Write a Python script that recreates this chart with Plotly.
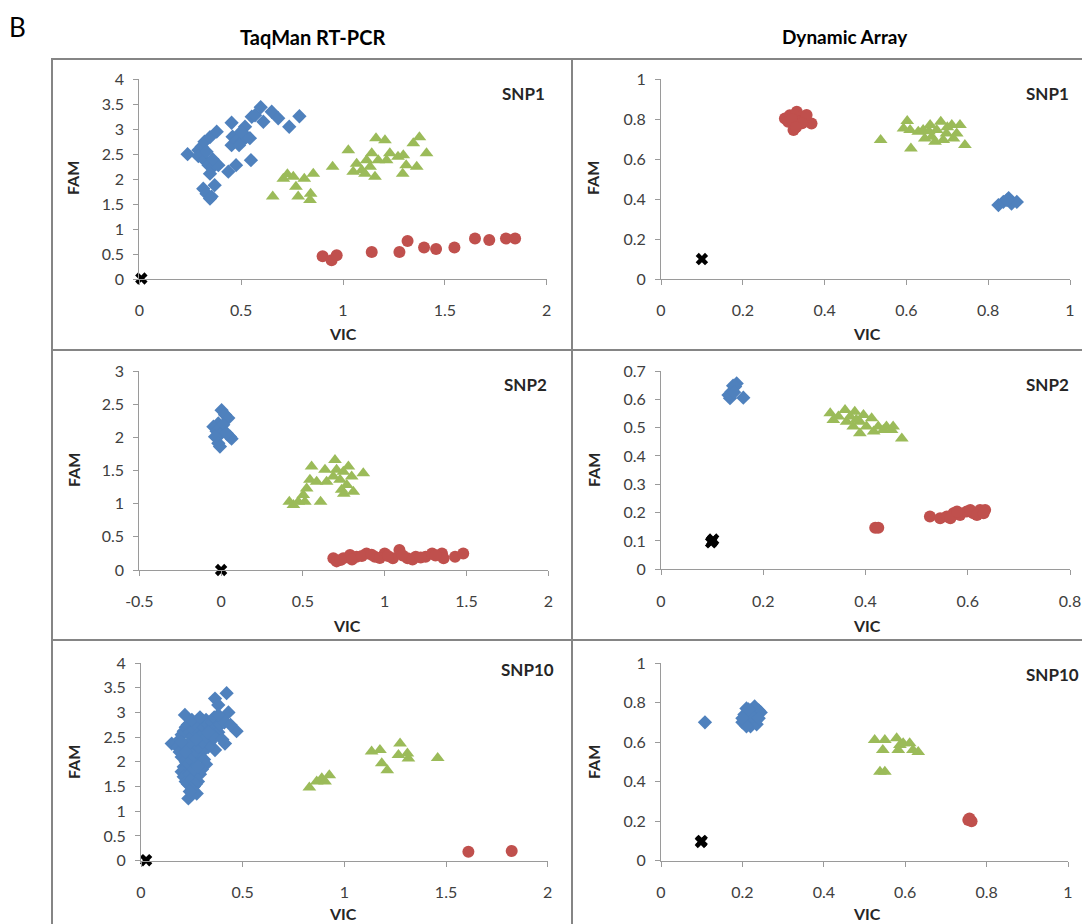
import plotly.graph_objects as go

# ---------------- DATA ----------------
# TaqMan RT-PCR, SNP1  (VIC, FAM)
TAQ1_BLUE = [(0.237,2.50),(0.29,2.58),(0.306,2.65),(0.32,2.75),(0.347,2.84),(0.38,2.95),(0.29,2.46),
             (0.32,2.38),(0.34,2.28),(0.363,2.25),(0.388,2.28),(0.347,2.11),(0.314,1.81),(0.33,1.71),
             (0.355,1.65),(0.37,1.88),(0.347,1.61),(0.437,2.15),(0.475,2.28),(0.453,2.68),(0.458,2.85),
             (0.453,3.13),(0.478,2.78),(0.502,2.75),(0.519,3.05),(0.527,2.85),(0.543,2.82),(0.548,2.38),
             (0.552,3.25),(0.568,3.28),(0.596,3.44),(0.609,3.15),(0.65,3.35),(0.682,3.22),(0.736,3.05),
             (0.786,3.26),(0.49,2.68),(0.36,2.40),(0.33,2.55),(0.50,2.95)]
TAQ1_GREEN = [(0.655,1.65),(0.707,2.01),(0.727,2.10),(0.756,2.05),(0.769,1.85),(0.78,1.65),(0.81,2.01),
              (0.841,1.71),(0.838,1.58),(0.854,2.11),(0.949,2.25),(1.026,2.58),(1.05,2.15),(1.067,2.31),
              (1.092,2.18),(1.108,2.11),(1.133,2.25),(1.141,2.52),(1.157,2.05),(1.162,2.82),(1.206,2.78),
              (1.214,2.38),(1.23,2.52),(1.27,2.45),(1.293,2.11),(1.296,2.48),(1.31,2.28),(1.345,2.72),
              (1.362,2.25),(1.375,2.84),(1.41,2.52),(1.173,2.38),(1.116,2.38)]
TAQ1_RED = [(0.90,0.455),(0.944,0.375),(0.969,0.475),(1.141,0.54),(1.277,0.54),(1.317,0.76),(1.398,0.63),
            (1.457,0.60),(1.547,0.63),(1.648,0.81),(1.718,0.78),(1.80,0.81),(1.845,0.81)]
TAQ1_NTC = [(0.01,0.01)]

# Dynamic Array, SNP1
DYN1_RED = [(0.303,0.804),(0.315,0.82),(0.332,0.838),(0.34,0.813),(0.324,0.746),(0.348,0.796),
            (0.368,0.779),(0.311,0.788),(0.328,0.771),(0.336,0.788),(0.356,0.821),(0.32,0.80),
            (0.345,0.78),(0.33,0.76)]
DYN1_GREEN = [(0.537,0.696),(0.602,0.791),(0.609,0.746),(0.611,0.654),(0.629,0.737),(0.641,0.746),
              (0.658,0.771),(0.662,0.712),(0.674,0.746),(0.684,0.788),(0.69,0.696),(0.698,0.729),
              (0.711,0.771),(0.715,0.704),(0.731,0.771),(0.723,0.729),(0.743,0.671),(0.593,0.754),
              (0.645,0.704),(0.67,0.687),(0.70,0.76),(0.655,0.74)]
DYN1_BLUE = [(0.825,0.37),(0.837,0.386),(0.85,0.405),(0.857,0.378),(0.87,0.386),(0.846,0.395)]
DYN1_NTC = [(0.10,0.10)]

# TaqMan RT-PCR, SNP2
TAQ2_BLUE = [(0.003,2.41),(0.024,2.34),(0.044,2.29),(-0.017,2.21),(-0.047,2.16),(0.013,2.19),
             (-0.027,2.09),(-0.007,2.04),(-0.037,2.01),(0.054,2.01),(0.064,1.98),(-0.017,1.91),
             (-0.007,1.86),(0.034,2.06)]
TAQ2_GREEN = [(0.417,1.03),(0.442,0.98),(0.472,1.03),(0.502,1.13),(0.512,1.03),(0.523,1.23),(0.553,1.56),
              (0.543,1.36),(0.584,1.33),(0.608,1.03),(0.635,1.51),(0.645,1.33),(0.696,1.66),(0.686,1.41),
              (0.706,1.51),(0.727,1.36),(0.737,1.21),(0.747,1.48),(0.768,1.28),(0.778,1.56),(0.798,1.41),
              (0.869,1.46),(0.808,1.18),(0.75,1.15)]
TAQ2_RED = [(0.686,0.176),(0.706,0.13),(0.747,0.176),(0.788,0.226),(0.828,0.20),(0.889,0.25),(0.94,0.20),
            (1.00,0.25),(1.05,0.176),(1.09,0.30),(1.14,0.176),(1.19,0.20),(1.25,0.20),(1.29,0.25),
            (1.35,0.25),(1.36,0.176),(1.43,0.20),(1.48,0.25),(0.73,0.15),(0.80,0.16),(0.86,0.21),
            (0.92,0.23),(0.97,0.18),(1.02,0.21),(1.11,0.22),(1.17,0.16),(1.22,0.19),(1.31,0.22)]
TAQ2_NTC = [(0.0,0.0)]

# Dynamic Array, SNP2
DYN2_BLUE = [(0.135,0.604),(0.141,0.648),(0.148,0.656),(0.138,0.627),(0.132,0.615),(0.161,0.606),
             (0.145,0.645),(0.143,0.625)]
DYN2_GREEN = [(0.331,0.551),(0.337,0.527),(0.347,0.539),(0.36,0.562),(0.363,0.521),(0.37,0.539),
              (0.379,0.556),(0.376,0.504),(0.389,0.48),(0.389,0.521),(0.396,0.545),(0.402,0.504),
              (0.412,0.533),(0.416,0.486),(0.425,0.504),(0.435,0.492),(0.441,0.504),(0.451,0.492),
              (0.454,0.504),(0.471,0.462),(0.382,0.528)]
DYN2_RED = [(0.419,0.147),(0.425,0.147),(0.526,0.186),(0.546,0.18),(0.559,0.186),(0.572,0.198),
            (0.585,0.192),(0.598,0.204),(0.611,0.198),(0.624,0.209),(0.634,0.209),(0.566,0.18),
            (0.579,0.204),(0.605,0.209),(0.618,0.192),(0.631,0.198)]
DYN2_NTC = [(0.10,0.10),(0.098,0.095),(0.102,0.105)]

# TaqMan RT-PCR, SNP10
TAQ10_BLUE = [(0.151,2.37),(0.18,2.30),(0.19,2.45),(0.20,2.55),(0.21,2.62),(0.216,2.95),(0.22,2.70),
              (0.23,2.75),(0.24,2.60),(0.25,2.50),(0.26,2.65),(0.27,2.80),(0.28,2.72),(0.29,2.60),
              (0.30,2.55),(0.31,2.70),(0.32,2.85),(0.33,2.75),(0.34,2.65),(0.35,2.80),(0.36,2.90),
              (0.37,2.70),(0.38,2.60),(0.39,2.75),(0.40,2.85),(0.364,3.28),(0.38,3.15),(0.421,3.39),
              (0.43,3.00),(0.47,2.62),(0.413,2.37),(0.364,2.24),(0.34,2.40),(0.33,2.30),(0.31,2.45),
              (0.30,2.20),(0.29,2.35),(0.28,2.10),(0.27,2.25),(0.26,2.00),(0.25,2.15),(0.24,2.05),
              (0.23,1.95),(0.22,2.00),(0.21,1.90),(0.20,2.10),(0.19,2.20),(0.20,1.80),(0.21,1.70),
              (0.22,1.60),(0.23,1.55),(0.24,1.75),(0.25,1.65),(0.26,1.50),(0.27,1.55),(0.28,1.60),
              (0.29,1.75),(0.233,1.26),(0.274,1.36),(0.24,1.40),(0.26,1.85),(0.31,2.05),(0.32,1.95),
              (0.35,2.55),(0.36,2.50),(0.40,2.45),(0.41,2.80),(0.27,2.45),(0.23,2.35),(0.22,2.20),
              (0.25,2.85),(0.29,2.90),(0.33,2.60),(0.38,2.95),(0.30,1.85),(0.28,1.90),(0.44,2.75),
              (0.20,2.40)]
TAQ10_GREEN = [(0.828,1.48),(0.864,1.60),(0.889,1.67),(0.905,1.60),(0.926,1.73),(1.134,2.21),(1.175,2.24),
               (1.184,1.97),(1.211,1.83),(1.274,2.37),(1.266,2.14),(1.31,2.17),(1.315,2.07),(1.459,2.08)]
TAQ10_RED = [(1.61,0.18),(1.823,0.195)]
TAQ10_NTC = [(0.025,0.01)]

# Dynamic Array, SNP10
DYN10_BLUE = [(0.108,0.70),(0.20,0.70),(0.205,0.74),(0.21,0.77),(0.215,0.72),(0.22,0.68),(0.22,0.76),
              (0.225,0.71),(0.23,0.78),(0.23,0.74),(0.235,0.69),(0.24,0.76),(0.245,0.75),(0.21,0.68),
              (0.225,0.73),(0.215,0.765),(0.20,0.72),(0.24,0.72)]
DYN10_GREEN = [(0.525,0.61),(0.55,0.61),(0.545,0.56),(0.538,0.45),(0.55,0.45),(0.579,0.62),(0.587,0.585),
               (0.595,0.594),(0.611,0.594),(0.619,0.56),(0.632,0.55),(0.583,0.56)]
DYN10_RED = [(0.755,0.206),(0.763,0.20),(0.758,0.214)]
DYN10_NTC = [(0.10,0.10),(0.098,0.095)]

# axis ticks
TICKS_TAQ_X = [0, 0.5, 1, 1.5, 2]
TICKS_TAQ2_X = [-0.5, 0, 0.5, 1, 1.5, 2]
TICKS_TAQ_Y4 = [0, 0.5, 1, 1.5, 2, 2.5, 3, 3.5, 4]
TICKS_TAQ_Y3 = [0, 0.5, 1, 1.5, 2, 2.5, 3]
TICKS_DYN_X1 = [0, 0.2, 0.4, 0.6, 0.8, 1]
TICKS_DYN_X08 = [0, 0.2, 0.4, 0.6, 0.8]
TICKS_DYN_Y1 = [0, 0.2, 0.4, 0.6, 0.8, 1]
TICKS_DYN_Y07 = [0, 0.1, 0.2, 0.3, 0.4, 0.5, 0.6, 0.7]

COL_TITLES = ["TaqMan RT-PCR", "Dynamic Array"]
PANEL_LABELS = ["SNP1", "SNP1", "SNP2", "SNP2", "SNP10", "SNP10"]

# ---------------- LAYOUT ----------------
W, H = 1082, 924
def PX(x): return x / W
def PY(y): return 1 - y / H

BLUE, RED, GREEN = "#4F81BD", "#C0504D", "#9BBB59"
FONT = "Lato"

def lab(v):
    return "%g" % v

panels = [
    dict(series=[TAQ1_BLUE, TAQ1_RED, TAQ1_GREEN, TAQ1_NTC], xt=TICKS_TAQ_X, yt=TICKS_TAQ_Y4,
         xd=(139.3, 546.7), yd=(279.0, 79.3), vic=(343, 333), fam=(73, 178), snp=(523, 93)),
    dict(series=[DYN1_BLUE, DYN1_RED, DYN1_GREEN, DYN1_NTC], xt=TICKS_DYN_X1, yt=TICKS_DYN_Y1,
         xd=(661.0, 1070.0), yd=(279.0, 79.3), vic=(867, 333), fam=(593, 178), snp=(1047, 93)),
    dict(series=[TAQ2_BLUE, TAQ2_RED, TAQ2_GREEN, TAQ2_NTC], xt=TICKS_TAQ2_X, yt=TICKS_TAQ_Y3,
         xd=(139.3, 548.3), yd=(570.0, 371.0), vic=(347, 625), fam=(73, 470), snp=(525, 384)),
    dict(series=[DYN2_BLUE, DYN2_RED, DYN2_GREEN, DYN2_NTC], xt=TICKS_DYN_X08, yt=TICKS_DYN_Y07,
         xd=(661.0, 1070.0), yd=(569.3, 371.0), vic=(867, 625), fam=(593, 470), snp=(1047, 384)),
    dict(series=[TAQ10_BLUE, TAQ10_RED, TAQ10_GREEN, TAQ10_NTC], xt=TICKS_TAQ_X, yt=TICKS_TAQ_Y4,
         xd=(141.0, 547.7), yd=(860.7, 663.0), vic=(343, 913), fam=(73, 762), snp=(527, 669)),
    dict(series=[DYN10_BLUE, DYN10_RED, DYN10_GREEN, DYN10_NTC], xt=TICKS_DYN_X1, yt=TICKS_DYN_Y1,
         xd=(661.0, 1068.0), yd=(860.7, 663.0), vic=(867, 913), fam=(593, 762), snp=(1052, 674)),
]

styles = [
    dict(symbol="diamond", size=11, color=BLUE),
    dict(symbol="circle", size=12, color=RED),
    dict(symbol="triangle-up", size=12, color=GREEN),
    dict(symbol="x", size=11, color="black"),
]

fig = go.Figure()
annotations = []
layout = {}
for i, p in enumerate(panels):
    k = "" if i == 0 else str(i + 1)
    for pts, st in zip(p["series"], styles):
        fig.add_trace(go.Scatter(
            x=[a for a, b in pts], y=[b for a, b in pts], mode="markers",
            xaxis="x" + k, yaxis="y" + k, cliponaxis=False, showlegend=False,
            marker=dict(symbol=st["symbol"], size=st["size"], color=st["color"], line=dict(width=0))))
    axcommon = dict(showgrid=False, zeroline=False, showline=True, linecolor="#9A9A9A", linewidth=1,
                    ticks="outside", ticklen=5, tickcolor="#9A9A9A", tickwidth=1, automargin=False,
                    tickfont=dict(family=FONT, size=16, color="#404040"), fixedrange=True)
    layout["xaxis" + k] = dict(axcommon, domain=[PX(p["xd"][0]), PX(p["xd"][1])],
                               range=[p["xt"][0], p["xt"][-1]], tickvals=p["xt"],
                               ticktext=[lab(v) for v in p["xt"]], anchor="y" + k,
                               ticklabelstandoff=12)
    layout["yaxis" + k] = dict(axcommon, domain=[PY(p["yd"][0]), PY(p["yd"][1])],
                               range=[p["yt"][0], p["yt"][-1]], tickvals=p["yt"],
                               ticktext=[lab(v) for v in p["yt"]], anchor="x" + k,
                               ticklabelstandoff=6)
    annotations.append(dict(text="<b>VIC</b>", x=PX(p["vic"][0]), y=PY(p["vic"][1]), xref="paper",
                            yref="paper", showarrow=False, xanchor="center", yanchor="middle",
                            font=dict(family=FONT, size=16, color="#262626")))
    annotations.append(dict(text="<b>FAM</b>", x=PX(p["fam"][0]), y=PY(p["fam"][1]), xref="paper",
                            yref="paper", showarrow=False, xanchor="center", yanchor="middle",
                            textangle=-90, font=dict(family=FONT, size=16, color="#262626")))
    annotations.append(dict(text="<b>%s</b>" % PANEL_LABELS[i], x=PX(p["snp"][0]), y=PY(p["snp"][1]),
                            xref="paper", yref="paper", showarrow=False, xanchor="center",
                            yanchor="middle", font=dict(family=FONT, size=17, color="#262626")))

annotations.append(dict(text="<b>%s</b>" % COL_TITLES[0], x=PX(312), y=PY(37), xref="paper", yref="paper",
                        showarrow=False, xanchor="center", yanchor="middle",
                        font=dict(family=FONT, size=20, color="black")))
annotations.append(dict(text="<b>%s</b>" % COL_TITLES[1], x=PX(845), y=PY(37), xref="paper", yref="paper",
                        showarrow=False, xanchor="center", yanchor="middle",
                        font=dict(family=FONT, size=19, color="black")))
annotations.append(dict(text="B", x=PX(17), y=PY(27), xref="paper", yref="paper",
                        showarrow=False, xanchor="center", yanchor="middle",
                        font=dict(family=FONT, size=26, color="black")))

shapes = []
box_x = [(52, 572), (572, 1095)]
box_y = [(59, 350), (350, 640), (640, 940)]
for (x0, x1) in box_x:
    for (y0, y1) in box_y:
        shapes.append(dict(type="rect", xref="paper", yref="paper", x0=PX(x0), x1=PX(x1),
                           y0=PY(y1), y1=PY(y0), line=dict(color="#858585", width=2),
                           fillcolor="rgba(0,0,0,0)", layer="below"))

fig.update_layout(width=W, height=H, margin=dict(l=0, r=0, t=0, b=0, autoexpand=False),
                  plot_bgcolor="white", paper_bgcolor="white", annotations=annotations,
                  shapes=shapes, showlegend=False, **layout)
fig.write_html("out.html")
